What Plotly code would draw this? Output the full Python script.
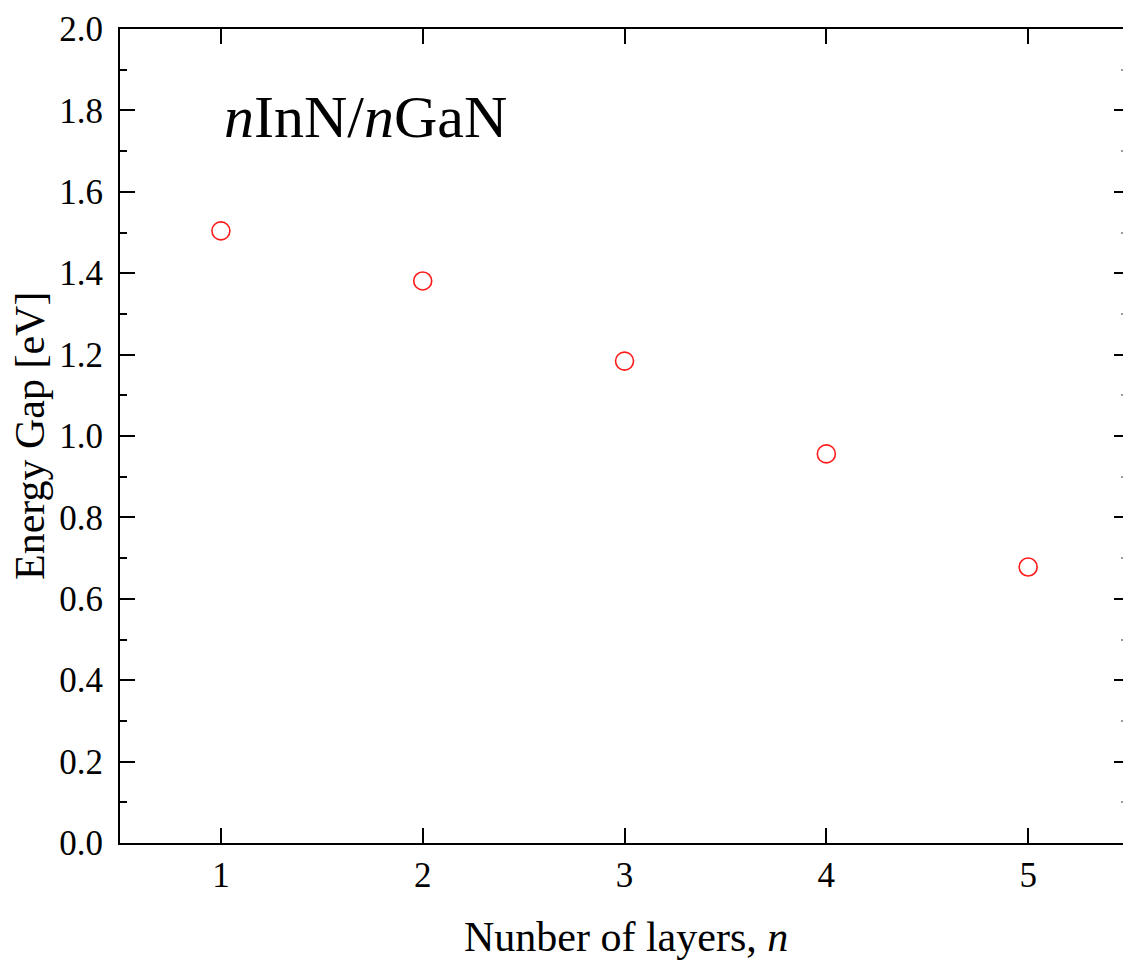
import plotly.graph_objects as go

layers = [1, 2, 3, 4, 5]
energy_gap = [1.504, 1.381, 1.184, 0.956, 0.678]
x_ticks = [1, 2, 3, 4, 5]
y_ticks = [0.0, 0.2, 0.4, 0.6, 0.8, 1.0, 1.2, 1.4, 1.6, 1.8, 2.0]
y_tick_labels = ["%.1f" % v for v in y_ticks]

FONT = "Liberation Serif, Times New Roman, serif"

L, T, B = 120, 29, 118
W, H = 1123, 961
plot_w = W - L
plot_h = H - T - B


def px(xp):
    return (xp - L) / plot_w


def py(yp):
    return 1 - (yp - T) / plot_h


fig = go.Figure()
fig.add_trace(go.Scatter(
    x=layers, y=energy_gap, mode="markers",
    marker=dict(symbol="circle-open", size=18, color="#ff1a1a",
                line=dict(width=1.6, color="#ff1a1a")),
    showlegend=False,
))
fig.add_trace(go.Scatter(x=[None], y=[None], yaxis="y2", showlegend=False))

fig.update_layout(
    width=W, height=H,
    margin=dict(l=L, r=0, t=T, b=B),
    paper_bgcolor="white", plot_bgcolor="white",
    font=dict(family=FONT, size=36, color="black"),
    xaxis=dict(
        range=[0.5, 5.47], tickvals=x_ticks, ticktext=[str(v) for v in x_ticks],
        showgrid=False, zeroline=False, showline=True, linewidth=2, linecolor="black",
        mirror="ticks", ticks="inside", ticklen=15, tickwidth=2, tickcolor="black",
        tickfont=dict(size=35),
    ),
    yaxis=dict(
        range=[0, 2], tickvals=y_ticks, ticktext=y_tick_labels,
        showgrid=False, zeroline=False, showline=True, linewidth=2, linecolor="black",
        ticks="inside", ticklen=15, tickwidth=2, tickcolor="black",
        minor=dict(dtick=0.1, ticks="inside", ticklen=7, tickwidth=2, tickcolor="black"),
        tickfont=dict(size=35), ticklabelstandoff=8,
    ),
    yaxis2=dict(
        overlaying="y", side="right", anchor="x", range=[0, 2], tickvals=y_ticks,
        showticklabels=False, showgrid=False, zeroline=False, showline=False,
        ticks="inside", ticklen=9, tickwidth=2, tickcolor="black",
        minor=dict(dtick=0.1, ticks="inside", ticklen=2, tickwidth=2, tickcolor="#999999"),
    ),
    annotations=[
        dict(text="<i>n</i>InN/<i>n</i>GaN", x=px(222), y=py(117),
             xref="paper", yref="paper", xanchor="left", yanchor="middle",
             showarrow=False, font=dict(size=60)),
        dict(text="Nunber of layers, <i>n</i>", x=px(626), y=py(937),
             xref="paper", yref="paper", xanchor="center", yanchor="middle",
             showarrow=False, font=dict(size=42)),
        dict(text="Energy Gap [eV]", x=px(30), y=py(436), textangle=-90,
             xref="paper", yref="paper", xanchor="center", yanchor="middle",
             showarrow=False, font=dict(size=42)),
    ],
)

fig.write_html("out.html")
